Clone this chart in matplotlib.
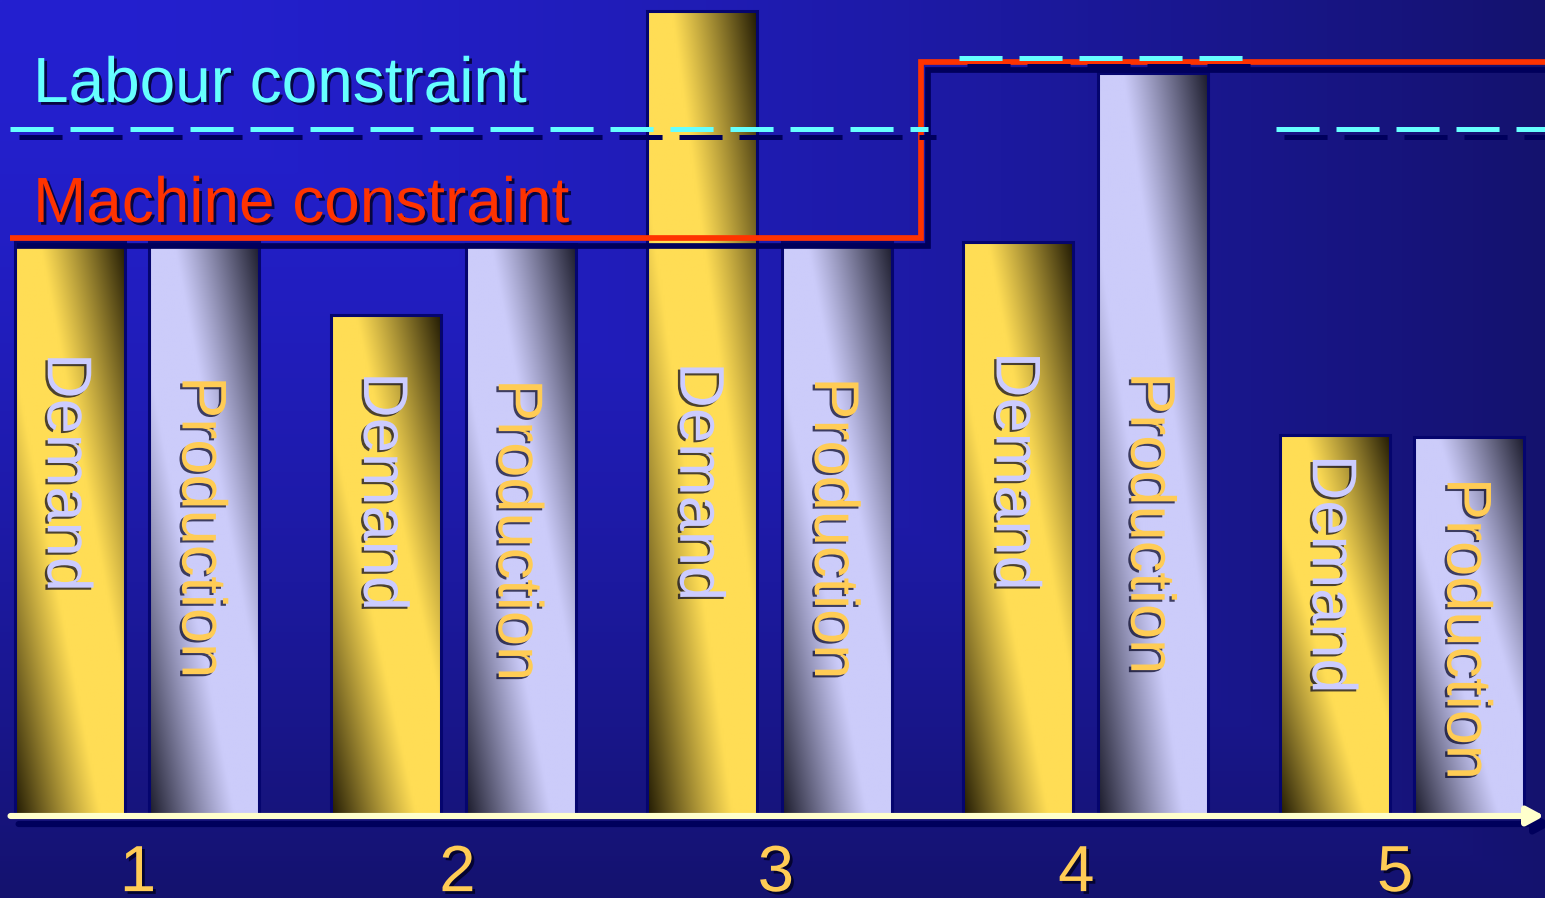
import numpy as np
import matplotlib
matplotlib.use("Agg")
import matplotlib.pyplot as plt
from matplotlib import patheffects as pe
from matplotlib.colors import to_rgb

# ---- data -------------------------------------------------------------
periods = [1, 2, 3, 4, 5]
period_labels = ["1", "2", "3", "4", "5"]
series_names = ["Demand", "Production"]
demand = [99.3, 86.7, 139.3, 99.3, 65.9]
production = [99.3, 99.0, 99.3, 128.5, 65.5]
machine_capacity = [100.0, 100.0, 100.0, 130.4, 130.4]
labour_capacity = [118.9, 118.9, 118.9, 131.1, 118.9]

# ---- layout / style ---------------------------------------------------
demand_label_top = [80.1, 76.8, 78.5, 80.3, 62.5]
production_label_top = [76.1, 75.6, 75.9, 76.8, 58.5]
period_label_shift = [0.003, 0.013, 0.02, -0.03, -0.022]
bar_width = 0.348
bar_offset = 0.213
FONT = "Liberation Sans"
NAVY = "#00005c"

plt.rcParams["lines.scale_dashes"] = False

fig = plt.figure(figsize=(15.45, 8.98), dpi=100)
ax = fig.add_axes([0, 0, 1, 1])
xlim = (0.5668, 5.4521)
ylim = (-14.19, 141.18)

# background: gradient spreading from the top-left corner
c0 = np.array([36, 32, 208]) / 255
c1 = np.array([20, 18, 110]) / 255
u = np.linspace(0, 1, 400)[None, :]
v = np.linspace(0, 1, 240)[:, None]
t = np.clip(np.maximum(u, v), 0, 1) ** 1.6
bg = c0[None, None, :] + (c1 - c0)[None, None, :] * t[..., None]
ax.imshow(bg, extent=(xlim[0], xlim[1], ylim[0], ylim[1]), aspect="auto",
          zorder=0, interpolation="bilinear")


def bar_fill(bright, dark, ny=160, nx=60):
    b = np.array(to_rgb(bright))
    d = np.array(to_rgb(dark))
    uu = np.linspace(0, 1, nx)[None, :]
    vv = np.linspace(0, 1, ny)[:, None]
    s = np.clip((np.abs(uu - vv) - 0.22) / 0.78, 0, 1) ** 1.1
    return b[None, None, :] * (1 - s[..., None]) + d[None, None, :] * s[..., None]


x = np.array(periods, dtype=float)
styles = [
    (demand, -bar_offset, "#ffdd55", "#231c04", "#ccccff", demand_label_top),
    (production, bar_offset, "#ccccfa", "#1c1c2c", "#ffcc55", production_label_top),
]
text_shadow = [pe.SimplePatchShadow(offset=(-1.7, -1.5), shadow_rgbFace="#000020", alpha=0.7),
               pe.Normal()]
for (values, off, bright, dark, tcol, tops), name in zip(styles, series_names):
    bars = ax.bar(x + off, values, bar_width, facecolor="none",
                  edgecolor="#05056e", linewidth=2.2, zorder=3)
    fill = bar_fill(bright, dark)
    for patch, top in zip(bars.patches, tops):
        x0, w, h = patch.get_x(), patch.get_width(), patch.get_height()
        im = ax.imshow(fill, extent=(x0, x0 + w, 0, h), aspect="auto",
                       zorder=2, interpolation="bilinear")
        im.set_clip_path(patch)
        ax.text(x0 + w / 2 - 0.017, top, name, rotation=-90, ha="center", va="top",
                fontsize=45.5, color=tcol, family=FONT, zorder=4,
                path_effects=text_shadow)

# machine constraint as a step line
edges = [periods[0] - 0.40] + [p + 0.48 for p in periods[:-1]] + [periods[-1] + 0.6]
ax.stairs(machine_capacity, edges, baseline=None, color="#ff3300", linewidth=4.1,
          zorder=5, joinstyle="miter",
          path_effects=[pe.SimpleLineShadow(offset=(5.0, -5.8), shadow_color=NAVY, alpha=1),
                        pe.Normal()])

# labour constraint: dashed segments, one per run of equal capacity
runs = []
start = 0
for i in range(1, len(periods) + 1):
    if i == len(periods) or labour_capacity[i] != labour_capacity[start]:
        runs.append((start, i - 1))
        start = i
for a, b in runs:
    xs = periods[a] - 0.40
    xe = periods[b] + 0.5
    lv = labour_capacity[a]
    ax.plot([xs, xe], [lv, lv], color="#66ffff", linewidth=3.6, dashes=(31, 12.2),
            dash_capstyle="butt", zorder=6,
            path_effects=[pe.SimpleLineShadow(offset=(5.8, -5.8), shadow_color=NAVY, alpha=1),
                          pe.Normal()])

# horizontal axis with arrow head
shadow_fx = [pe.SimplePatchShadow(offset=(5.8, -5.8), shadow_rgbFace=NAVY, alpha=1),
             pe.SimpleLineShadow(offset=(5.8, -5.8), shadow_color=NAVY, alpha=1),
             pe.Normal()]
ax.annotate("", xy=(xlim[1] - 0.002, 0), xytext=(periods[0] - 0.40, 0),
            arrowprops=dict(arrowstyle="-|>,head_length=0.5,head_width=0.27",
                            mutation_scale=20, color="#ffffcc", lw=4.4,
                            shrinkA=0, shrinkB=0, path_effects=shadow_fx),
            zorder=7)

# period numbers
tick_shadow = [pe.SimplePatchShadow(offset=(2.0, -2.0), shadow_rgbFace="#000020", alpha=0.8),
               pe.Normal()]
for p, lab, dx in zip(periods, period_labels, period_label_shift):
    ax.text(p + dx, -13.0, lab, ha="center", va="baseline", fontsize=47,
            color="#ffcc55", family=FONT, zorder=8, path_effects=tick_shadow)

# constraint captions
cap_shadow = [pe.SimplePatchShadow(offset=(2.0, -2.0), shadow_rgbFace="#000020", alpha=0.8),
              pe.Normal()]
ax.text(0.0214, 0.8864, "Labour constraint", transform=ax.transAxes, fontsize=46,
        color="#66ffff", family=FONT, va="baseline", ha="left", zorder=9,
        path_effects=cap_shadow)
ax.text(0.0214, 0.7528, "Machine constraint", transform=ax.transAxes, fontsize=46,
        color="#ff3300", family=FONT, va="baseline", ha="left", zorder=9,
        path_effects=cap_shadow)

ax.set_xlim(*xlim)
ax.set_ylim(*ylim)
ax.axis("off")
fig.savefig("out.png", dpi=100)
